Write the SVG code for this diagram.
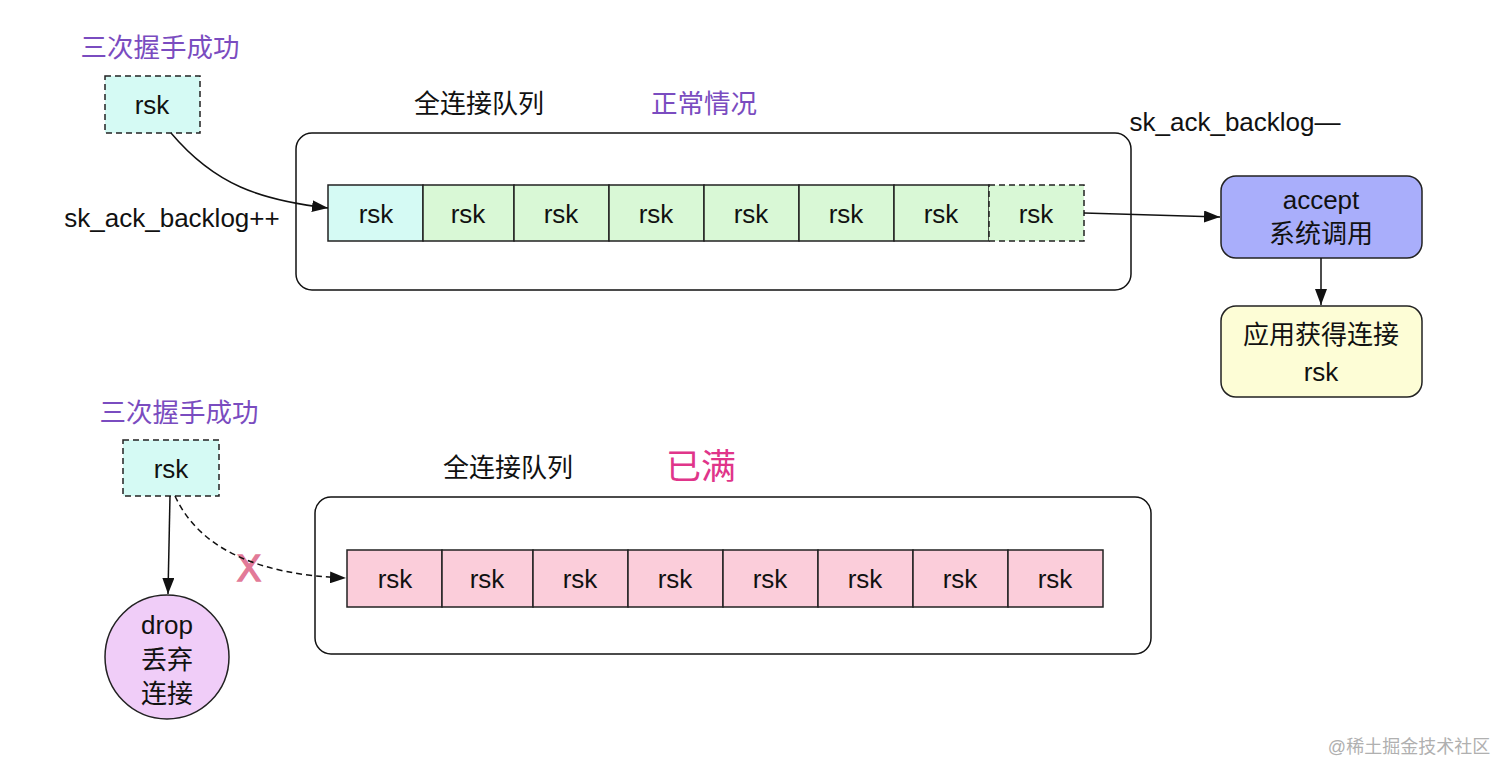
<svg xmlns="http://www.w3.org/2000/svg" width="1512" height="780" viewBox="0 0 1512 780">
<defs>
<style>
text{font-family:"Liberation Sans","Noto Sans CJK SC",sans-serif;text-anchor:middle;dominant-baseline:central;fill:#111}
.t{font-size:26px}
.p{font-size:26.5px;fill:#7a4cc0}
.c{stroke:#222;stroke-width:1.5}
.cy{fill:#d5faf4}
.gr{fill:#d9f8d6}
.pk{fill:#fbcdda}
.dash{stroke-dasharray:6 4}
.box{fill:none;stroke:#111;stroke-width:1.5}
.ln{fill:none;stroke:#111;stroke-width:1.5}
</style>
<marker id="ahl" viewBox="0 0 16 12" refX="16" refY="6" markerWidth="16" markerHeight="12" markerUnits="userSpaceOnUse" orient="auto"><path d="M0,0 L16,6 L0,12 z" fill="#111"/></marker>
</defs>

<g id="labels">
<text class="p" x="160" y="48">三次握手成功</text>
<text class="t" x="172" y="218">sk_ack_backlog++</text>
<text class="t" x="479" y="104">全连接队列</text>
<text class="p" x="704" y="104">正常情况</text>
<text class="t" x="1235" y="122">sk_ack_backlog—</text>
<text class="p" x="179" y="413">三次握手成功</text>
<text class="t" x="508" y="468">全连接队列</text>
<text x="701" y="466" style="font-size:35px;fill:#e0358a">已满</text>
<text x="249" y="568" style="font-size:36px;fill:#e27a98;stroke:#e27a98;stroke-width:1.5">X</text>
<text x="1409" y="747" style="font-size:18px;fill:#b0b0b0">@稀土掘金技术社区</text>
</g>

<g id="top-queue">
<rect class="box" x="296" y="133" width="835" height="157" rx="16"/>
<rect class="c cy" x="328" y="185" width="95" height="56"/>
<rect class="c gr" x="423" y="185" width="91" height="56"/>
<rect class="c gr" x="514" y="185" width="95" height="56"/>
<rect class="c gr" x="609" y="185" width="95" height="56"/>
<rect class="c gr" x="704" y="185" width="95" height="56"/>
<rect class="c gr" x="799" y="185" width="95" height="56"/>
<rect class="c gr" x="894" y="185" width="95" height="56"/>
<rect class="c gr dash" x="989" y="185" width="95" height="56"/>
<text class="t" x="376" y="214">rsk</text>
<text class="t" x="468" y="214">rsk</text>
<text class="t" x="561" y="214">rsk</text>
<text class="t" x="656" y="214">rsk</text>
<text class="t" x="751" y="214">rsk</text>
<text class="t" x="846" y="214">rsk</text>
<text class="t" x="941" y="214">rsk</text>
<text class="t" x="1036" y="214">rsk</text>
</g>

<g id="top-rsk">
<rect class="c cy dash" x="105" y="76" width="95" height="57"/>
<text class="t" x="152" y="105">rsk</text>
</g>

<g id="accept">
<rect x="1221" y="176" width="201" height="82" rx="15" fill="#a9aefb" stroke="#222" stroke-width="1.5"/>
<text class="t" x="1321" y="200">accept</text>
<text class="t" x="1321" y="234">系统调用</text>
</g>

<g id="app">
<rect x="1221" y="306" width="201" height="91" rx="15" fill="#fdfdd6" stroke="#222" stroke-width="1.5"/>
<text class="t" x="1321" y="335">应用获得连接</text>
<text class="t" x="1321" y="372">rsk</text>
</g>

<g id="bottom-rsk">
<rect class="c cy dash" x="123" y="440" width="96" height="56"/>
<text class="t" x="171" y="469">rsk</text>
</g>

<g id="drop">
<circle cx="167" cy="657" r="62" fill="#f0cdf8" stroke="#222" stroke-width="1.5"/>
<text class="t" x="167" y="625">drop</text>
<text class="t" x="167" y="660">丢弃</text>
<text class="t" x="167" y="694">连接</text>
</g>

<g id="bottom-queue">
<rect class="box" x="315" y="497" width="836" height="157" rx="16"/>
<rect class="c pk" x="347" y="550" width="95" height="57"/>
<rect class="c pk" x="442" y="550" width="91" height="57"/>
<rect class="c pk" x="533" y="550" width="95" height="57"/>
<rect class="c pk" x="628" y="550" width="95" height="57"/>
<rect class="c pk" x="723" y="550" width="95" height="57"/>
<rect class="c pk" x="818" y="550" width="95" height="57"/>
<rect class="c pk" x="913" y="550" width="95" height="57"/>
<rect class="c pk" x="1008" y="550" width="95" height="57"/>
<text class="t" x="395" y="579">rsk</text>
<text class="t" x="487" y="579">rsk</text>
<text class="t" x="580" y="579">rsk</text>
<text class="t" x="675" y="579">rsk</text>
<text class="t" x="770" y="579">rsk</text>
<text class="t" x="865" y="579">rsk</text>
<text class="t" x="960" y="579">rsk</text>
<text class="t" x="1055" y="579">rsk</text>
</g>

<g id="connectors">
<path class="ln" d="M171,133 C215,185 260,200 328,208" marker-end="url(#ahl)"/>
<path class="ln" d="M1084,213 L1220,217" marker-end="url(#ahl)"/>
<path class="ln" d="M1321,258 L1321,305" marker-end="url(#ahl)"/>
<path class="ln" d="M170,496 L168,594" marker-end="url(#ahl)"/>
<path class="ln dash" d="M175,496 C200,550 260,575 346,578" marker-end="url(#ahl)"/>
</g>
</svg>
